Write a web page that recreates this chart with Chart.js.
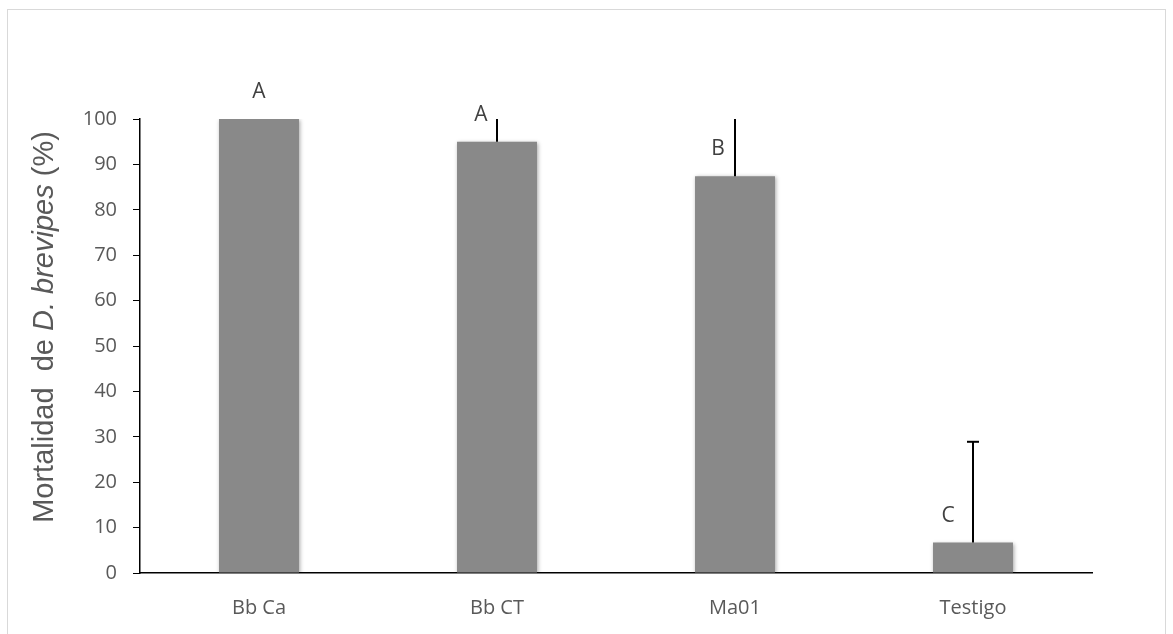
<!DOCTYPE html>
<html>
<head>
<meta charset="utf-8">
<script src="https://cdn.jsdelivr.net/npm/chart.js@4.4.1/dist/chart.umd.min.js"></script>
<style>
  html, body { margin: 0; padding: 0; background: #fff; }
  #wrap { position: relative; width: 1173px; height: 634px; overflow: hidden; }
  #frame { position: absolute; left: 7px; top: 9px; width: 1159px; height: 660px; border: 1px solid #d9d9d9; box-sizing: border-box; }
  canvas { position: absolute; left: 0; top: 0; }
</style>
</head>
<body>
<div id="wrap">
  <div id="frame"></div>
  <canvas id="c" width="1173" height="634"></canvas>
</div>
<script>
// ---- data ----
const categories = ['Bb Ca', 'Bb CT', 'Ma01', 'Testigo'];
const mortality = [100, 95, 87.4, 6.7];
const errorUp = [0, 5, 12.6, 22.2];
const groupLetters = ['A', 'A', 'B', 'C'];
const yTicksMin = 0;
const yTicksMax = 100;
const yTicksStep = 10;

const errorBarPlugin = {
  id: 'errorBars',
  afterDatasetsDraw(chart, args, opts) {
    const ctx = chart.ctx;
    const xs = chart.scales.x, ys = chart.scales.y;
    const area = chart.chartArea;
    ctx.save();
    ctx.beginPath();
    ctx.rect(area.left - 5, area.top, area.right - area.left + 10, area.bottom - area.top);
    ctx.clip();
    ctx.strokeStyle = '#000';
    ctx.lineWidth = 2;
    mortality.forEach((v, i) => {
      const e = errorUp[i];
      if (!e) return;
      const x = xs.getPixelForValue(i);
      const y0 = ys.getPixelForValue(v);
      const top = v + e;
      const y1 = ys.getPixelForValue(Math.min(top, yTicksMax));
      ctx.beginPath();
      ctx.moveTo(x, y0);
      ctx.lineTo(x, y1);
      ctx.stroke();
      if (top < yTicksMax) {
        ctx.beginPath();
        ctx.moveTo(x - 6, y1);
        ctx.lineTo(x + 6, y1);
        ctx.stroke();
      }
    });
    ctx.restore();
  }
};

const letterPlugin = {
  id: 'letters',
  afterDatasetsDraw(chart, args, opts) {
    const ctx = chart.ctx;
    const xs = chart.scales.x, ys = chart.scales.y;
    ctx.save();
    ctx.font = '21px "Open Sans"';
    ctx.fillStyle = '#404040';
    ctx.textAlign = 'center';
    ctx.textBaseline = 'middle';
    groupLetters.forEach((t, i) => {
      const x = xs.getPixelForValue(i) + opts.dx[i];
      const y = ys.getPixelForValue(mortality[i]) - opts.dy;
      ctx.fillText(t, x, y);
    });
    ctx.restore();
  }
};

const yTitlePlugin = {
  id: 'yTitle',
  afterDraw(chart, args, opts) {
    const ctx = chart.ctx;
    const parts = [
      { t: 'Mortalidad  de ', f: '29px "Liberation Sans"' },
      { t: 'D. brevipes', f: 'italic 29px "Liberation Sans"' },
      { t: ' (%)', f: '29px "Liberation Sans"' }
    ];
    ctx.save();
    let w = 0;
    parts.forEach(p => { ctx.font = p.f; p.w = ctx.measureText(p.t).width; w += p.w; });
    ctx.translate(opts.x, opts.y);
    ctx.rotate(-Math.PI / 2);
    ctx.fillStyle = '#595959';
    ctx.textBaseline = 'middle';
    ctx.textAlign = 'left';
    let x = -w / 2;
    parts.forEach(p => { ctx.font = p.f; ctx.fillText(p.t, x, 0); x += p.w; });
    ctx.restore();
  }
};

const barShadowPlugin = {
  id: 'barShadow',
  beforeDatasetsDraw(chart) {
    const ctx = chart.ctx;
    ctx.save();
    ctx.shadowColor = 'rgba(0,0,0,0.35)';
    ctx.shadowBlur = 4;
    ctx.shadowOffsetX = 1;
    ctx.shadowOffsetY = 1;
  },
  afterDatasetsDraw(chart) {
    chart.ctx.restore();
  }
};

new Chart(document.getElementById('c'), {
  type: 'bar',
  data: {
    labels: categories,
    datasets: [{
      data: mortality,
      backgroundColor: '#898989',
      borderWidth: 0,
      barPercentage: 0.336,
      categoryPercentage: 1.0
    }]
  },
  plugins: [barShadowPlugin, errorBarPlugin, letterPlugin, yTitlePlugin],
  options: {
    responsive: false,
    animation: false,
    events: [],
    layout: { padding: { top: 119, right: 81, left: 0, bottom: 0 } },
    plugins: {
      legend: { display: false },
      tooltip: { enabled: false },
      letters: { dx: [0, -16, -17, -25], dy: 27 },
      yTitle: { x: 45, y: 327 }
    },
    scales: {
      x: {
        grid: { display: false },
        border: { display: true, color: '#000', width: 1.5 },
        ticks: { color: '#595959', font: { family: 'Open Sans', size: 20 }, padding: 15, maxRotation: 0 },
        afterFit(scale) { scale.height = 61; }
      },
      y: {
        min: yTicksMin,
        max: yTicksMax,
        ticks: { stepSize: yTicksStep, color: '#595959', font: { family: 'Open Sans', size: 20 }, padding: 16 },
        grid: { drawOnChartArea: false, drawTicks: true, tickLength: 7, color: '#000', lineWidth: 1 },
        border: { display: true, color: '#000', width: 1.5 },
        afterFit(scale) { scale.width = 140; }
      }
    }
  }
});
</script>
</body>
</html>
